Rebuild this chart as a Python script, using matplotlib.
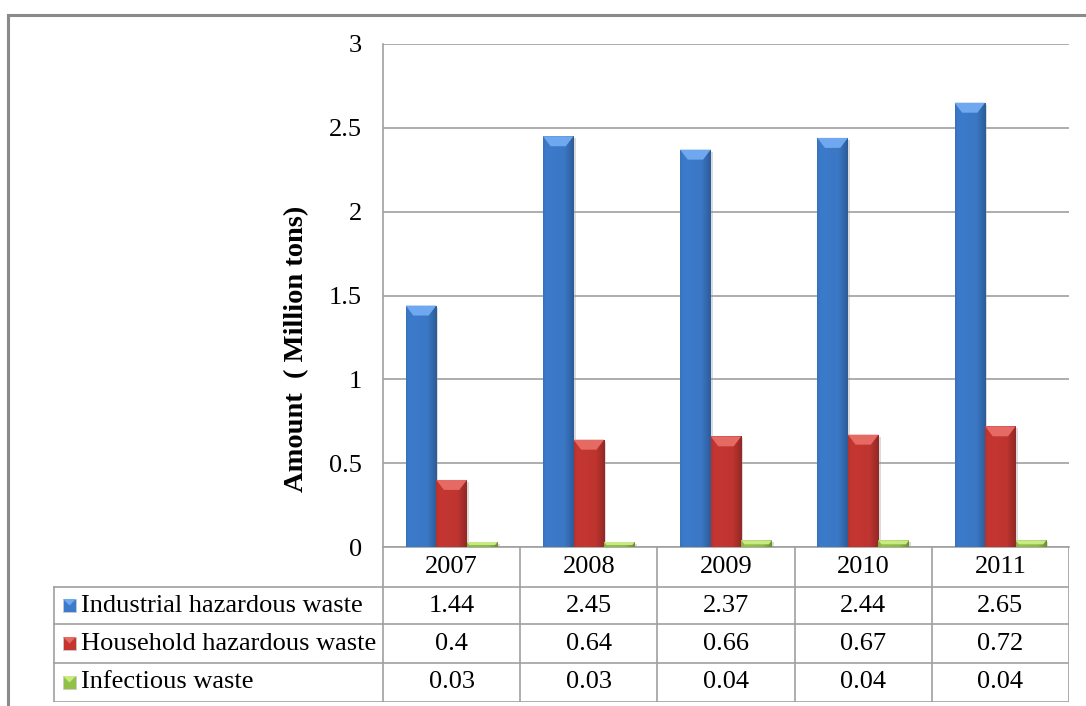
import numpy as np
import matplotlib
matplotlib.use("Agg")
import matplotlib.pyplot as plt
from matplotlib.patches import Rectangle, Polygon
from matplotlib.lines import Line2D
from matplotlib.colors import to_rgb
import matplotlib.patheffects as pe

plt.rcParams['font.family'] = ['Liberation Serif', 'DejaVu Serif']

# data (million tons)
years = ['2007', '2008', '2009', '2010', '2011']
industrial = [1.44, 2.45, 2.37, 2.44, 2.65]
household = [0.4, 0.64, 0.66, 0.67, 0.72]
infectious = [0.03, 0.03, 0.04, 0.04, 0.04]
series_names = ['Industrial hazardous waste', 'Household hazardous waste', 'Infectious waste']
yticks = [0, 0.5, 1, 1.5, 2, 2.5, 3]

colors = ['#3c7bcb', '#c53631', '#93c047']
tops = ['#6fa8ee', '#e46a63', '#c8ea84']
FS = 19

W, H = 1086, 706
fig = plt.figure(figsize=(W / 100, H / 100), dpi=100)

# outer frame
fig.add_artist(Rectangle((8 / W, -0.1), 1.2, 1 - 15 / H + 0.1, transform=fig.transFigure,
                         fill=False, ec='#8a8a8a', lw=2.2))

# plot area
ax_l, ax_r, ax_t, ax_b = 383, 1069, 44, 547
ax = fig.add_axes([ax_l / W, 1 - ax_b / H, (ax_r - ax_l) / W, (ax_b - ax_t) / H])
ax.set_xlim(-0.5, len(years) - 0.5)
ax.set_ylim(0, 3)
ax.set_yticks(yticks)
ax.set_yticklabels(['0', '0.5', '1', '1.5', '2', '2.5', '3'])
ax.set_xticks([])
ax.tick_params(axis='y', length=0, pad=15, labelsize=FS)
ax.yaxis.grid(True, color='#a0a0a0', lw=1.2)
ax.set_axisbelow(True)
for s in ['top', 'right']:
    ax.spines[s].set_visible(False)
ax.spines['left'].set_color('#a0a0a0')
ax.spines['bottom'].set_color('#a0a0a0')
ax.spines['left'].set_linewidth(1.2)
ax.spines['bottom'].set_linewidth(1.2)

bw = 0.223
x = np.arange(len(years))
px_per_unit = (ax_b - ax_t) / 3.0
shade = np.interp(np.linspace(0, 1, 40), [0, 0.12, 0.7, 1], [0.93, 1.0, 0.97, 0.75])

for k, vals in enumerate([industrial, household, infectious]):
    base = np.array(to_rgb(colors[k]))
    bars = ax.bar(x + (k - 1) * bw, vals, bw, color=colors[k], lw=0, zorder=2)
    for b, v in zip(bars, vals):
        b.set_path_effects([pe.SimplePatchShadow(offset=(1.5, -1.5), shadow_rgbFace='#999999', alpha=0.35),
                            pe.Normal()])
        x0 = b.get_x()
        grad = np.clip(base[None, :] * shade[:, None], 0, 1)[None, :, :]
        im = ax.imshow(grad, extent=(x0, x0 + bw, 0, v), aspect='auto', zorder=3, interpolation='bilinear')
        im.set_clip_path(b)
        # bevel on the bar top
        h = min(10 / px_per_unit, v * 0.6)
        ins = bw * 0.25 * h / (10 / px_per_unit)
        ax.add_patch(Polygon([(x0, v), (x0 + bw, v), (x0 + bw - ins, v - h), (x0 + ins, v - h)],
                             closed=True, fc=tops[k], ec='none', zorder=4))
ax.set_xlim(-0.5, len(years) - 0.5)
ax.set_ylim(0, 3)

fig.text(297 / W, 1 - 349 / H, 'Amount  ( Million tons)', rotation=90, ha='center', va='center',
         fontsize=20.5, fontweight='bold')

# data table under the plot
tab_l, tab_b = 53, 702
tab = fig.add_axes([tab_l / W, 1 - tab_b / H, (ax_r - tab_l) / W, (tab_b - ax_b) / H])
tab.set_xlim(tab_l, ax_r)
tab.set_ylim(tab_b, ax_b)
tab.axis('off')
rows = [547, 587, 624, 663, 702]
colw = (ax_r - ax_l) / len(years)
lc = '#a0a0a0'
for i in range(len(years) + 1):
    xx = ax_l + i * colw
    tab.add_line(Line2D([xx, xx], [rows[0], rows[-1]], color=lc, lw=1.2))
tab.add_line(Line2D([tab_l + 0.5, tab_l + 0.5], [rows[1], rows[-1]], color=lc, lw=1.2))
for r in rows[1:]:
    tab.add_line(Line2D([tab_l, ax_r], [r, r], color=lc, lw=1.2))

for i, yr in enumerate(years):
    tab.text(ax_l + (i + 0.5) * colw, (rows[0] + rows[1]) / 2, yr, ha='center', va='center', fontsize=FS)

for k, (name, vals) in enumerate(zip(series_names, [industrial, household, infectious])):
    yc = (rows[k + 1] + rows[k + 2]) / 2
    tab.add_patch(Rectangle((63, yc - 6.5), 13, 13, fc=colors[k], ec='#cccccc', lw=0.6))
    tab.add_patch(Polygon([(63, yc - 6.5), (76, yc - 6.5), (69.5, yc)], closed=True, fc=tops[k], ec='none'))
    tab.text(81, yc, name, ha='left', va='center', fontsize=FS)
    for i, v in enumerate(vals):
        tab.text(ax_l + (i + 0.5) * colw, yc, f'{v:g}', ha='center', va='center', fontsize=FS)

fig.savefig('out.png', dpi=100)
